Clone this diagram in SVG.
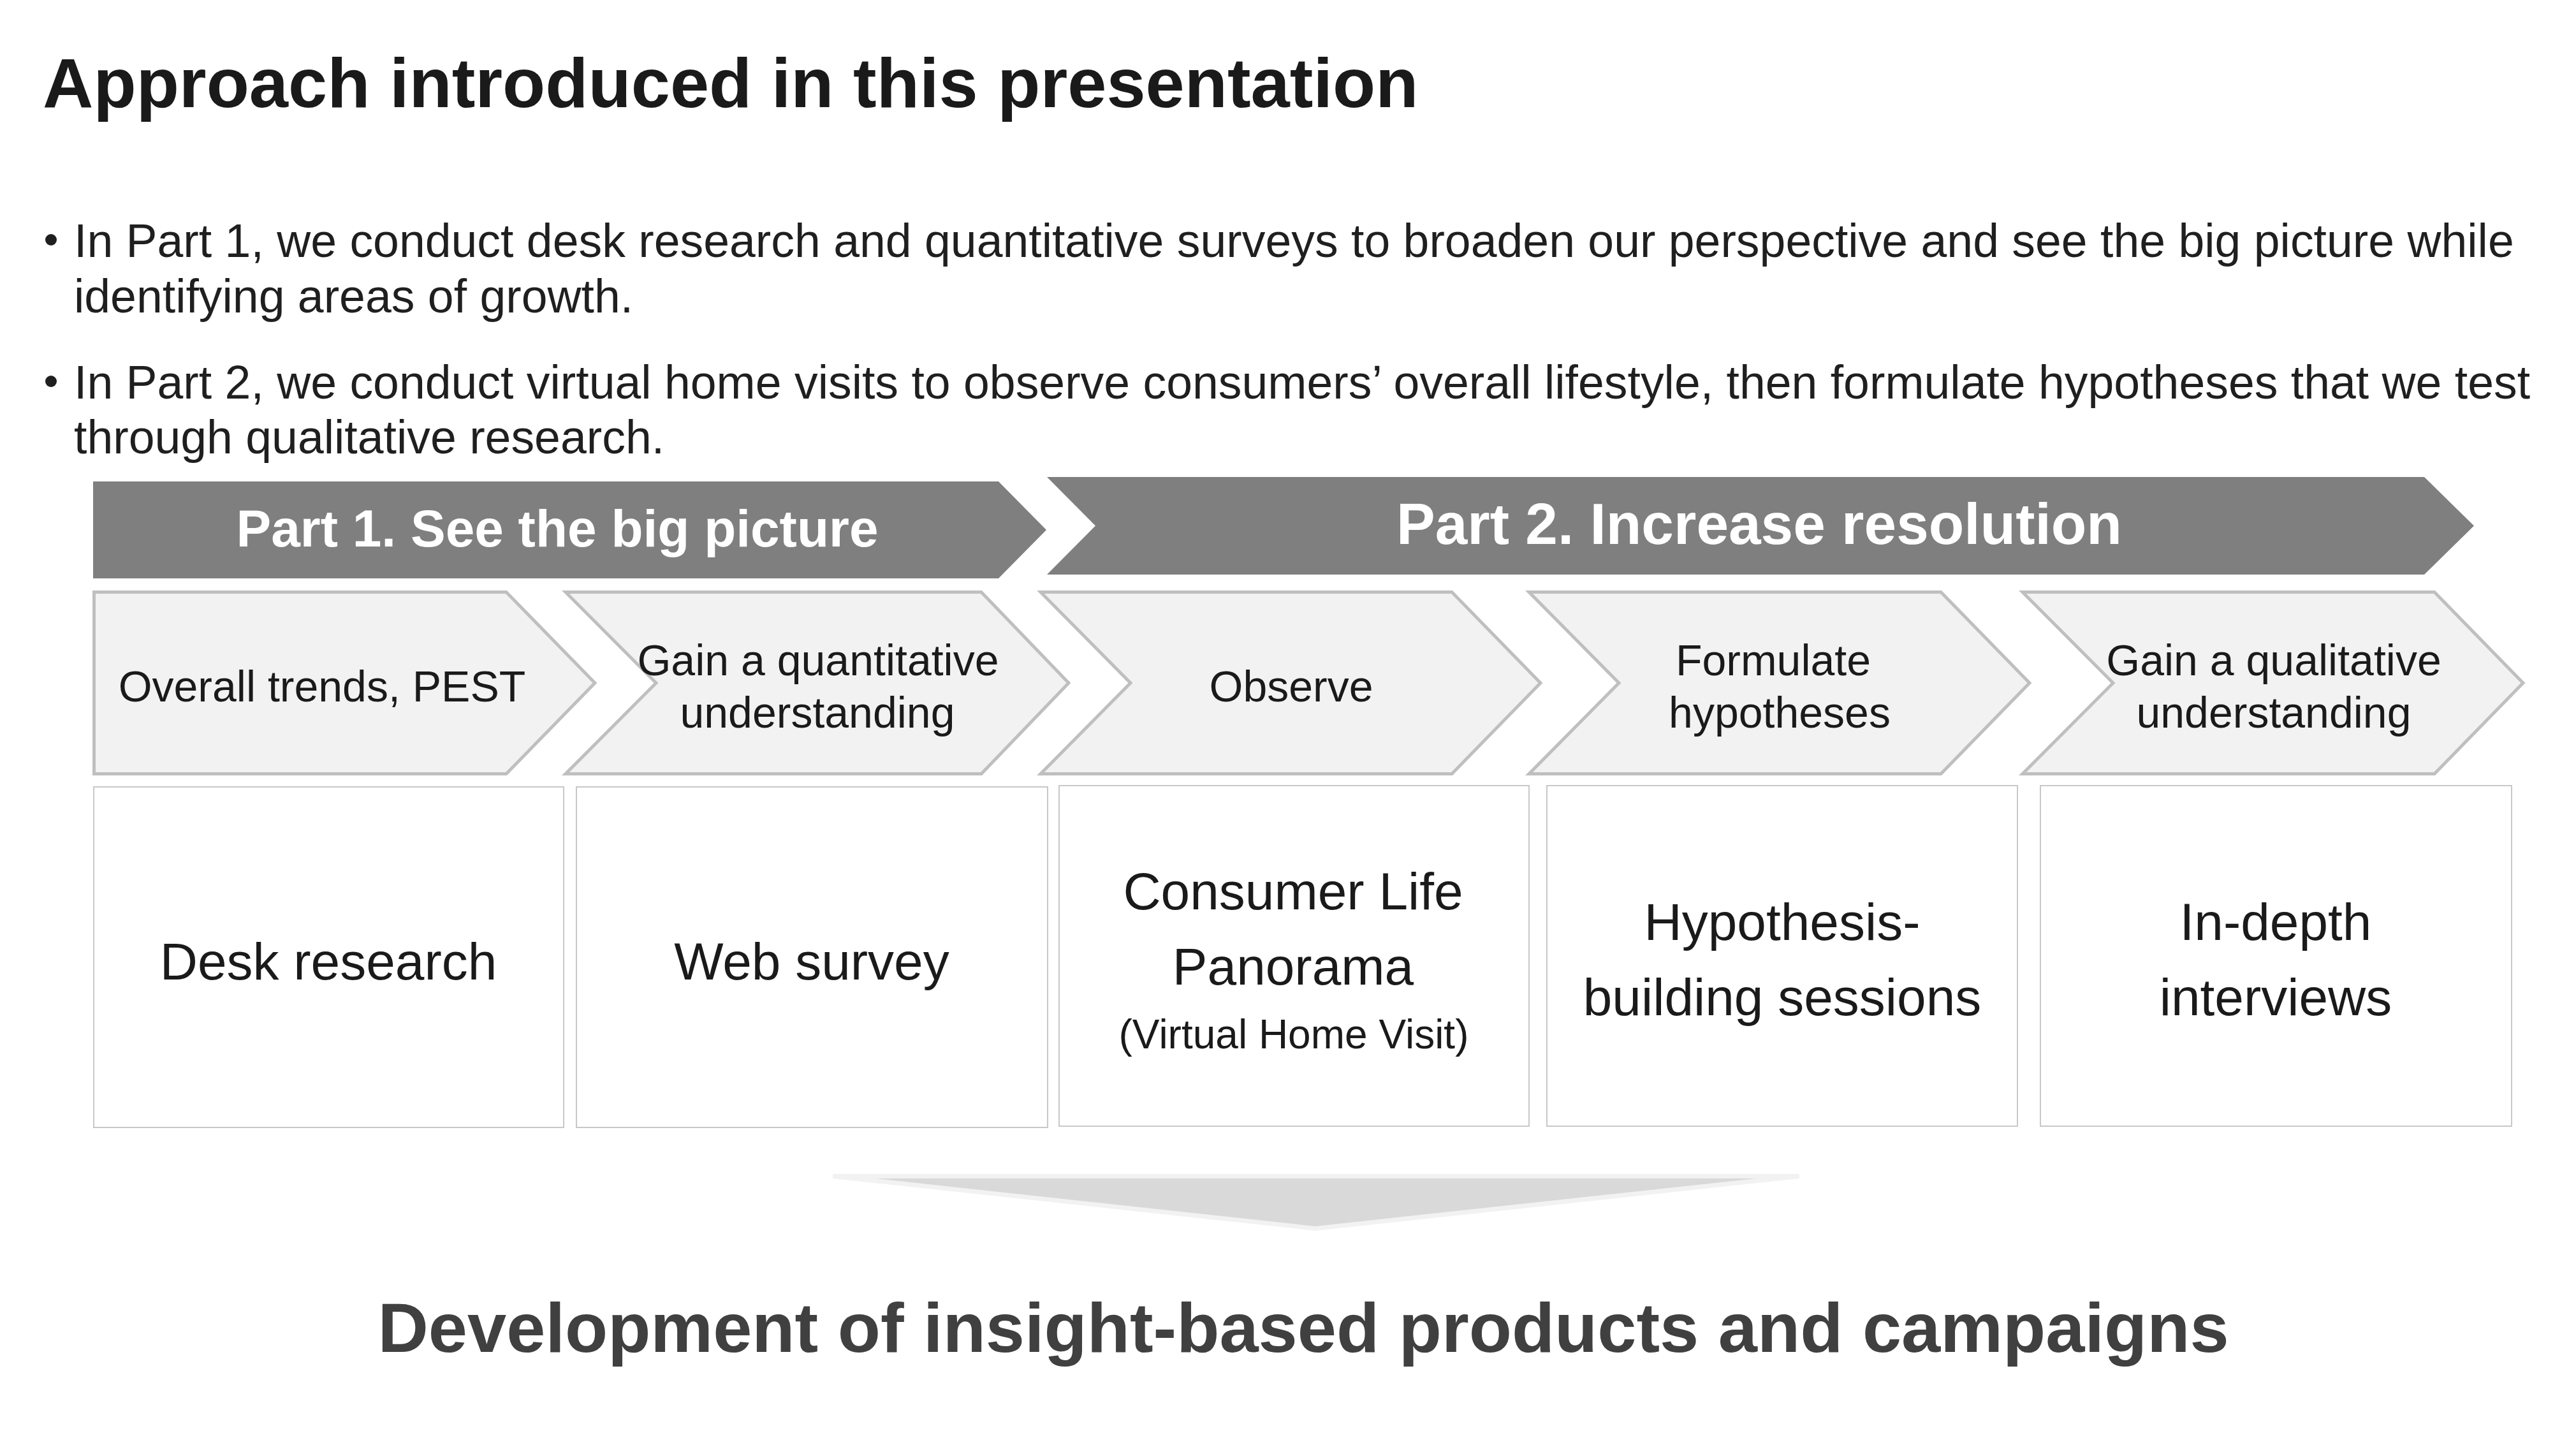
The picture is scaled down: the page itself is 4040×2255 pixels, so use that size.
<svg xmlns="http://www.w3.org/2000/svg" width="4040" height="2255" viewBox="0 0 4040 2255">
<style>
.t{font-family:"Liberation Sans",Arial,sans-serif;}
.title{font-size:110px;font-weight:bold;fill:#1a1a1a;}
.body{font-size:73.4px;fill:#1f1f1f;}
.bar{fill:#7f7f7f;}
.barT{font-size:82px;font-weight:bold;fill:#ffffff;text-anchor:middle;}
.chev{fill:#f2f2f2;stroke:#bfbfbf;stroke-width:5;stroke-linejoin:miter;}
.chevT{font-size:68px;fill:#1a1a1a;text-anchor:middle;}
.box{fill:#ffffff;stroke:#c8c8c8;stroke-width:2;}
.boxT{font-size:82px;fill:#1a1a1a;text-anchor:middle;}
.sub{font-size:64px;fill:#1a1a1a;text-anchor:middle;}
.res{font-size:110px;font-weight:bold;fill:#404040;text-anchor:middle;}
</style>
<rect width="4040" height="2255" fill="#ffffff"/>
<text class="t title" x="67" y="168">Approach introduced in this presentation</text>
<g id="bullets">
<circle cx="80" cy="376" r="9" fill="#1f1f1f"/>
<text class="t body" x="116" y="403">In Part 1, we conduct desk research and quantitative surveys to broaden our perspective and see the big picture while</text>
<text class="t body" x="116" y="490">identifying areas of growth.</text>
<circle cx="80" cy="598" r="9" fill="#1f1f1f"/>
<text class="t body" x="116" y="625">In Part 2, we conduct virtual home visits to observe consumers’ overall lifestyle, then formulate hypotheses that we test</text>
<text class="t body" x="116" y="711">through qualitative research.</text>
</g>
<g id="part1">
<path class="bar" d="M146,755 H1566 L1641,831 L1566,907 H146 Z"/>
<text class="t barT" x="874" y="857">Part 1. See the big picture</text>
</g>
<g id="part2">
<path class="bar" d="M1642,748 H3802 L3880,824.5 L3802,901 H1642 L1718,824.5 Z"/>
<text class="t barT" x="2759" y="853" style="font-size:91px">Part 2. Increase resolution</text>
</g>
<g id="step1">
<path class="chev" d="M147.5,928.5 H794 L933,1071 L794,1213.5 H147.5 Z"/>
<text class="t chevT" x="505" y="1100">Overall trends, PEST</text>
</g>
<g id="step2">
<path class="chev" d="M887,928.5 H1539 L1676,1071 L1539,1213.5 H887 L1029,1071 Z"/>
<text class="t chevT" x="1283" y="1059">Gain a quantitative</text>
<text class="t chevT" x="1282" y="1141">understanding</text>
</g>
<g id="step3">
<path class="chev" d="M1632,928.5 H2277 L2416,1071 L2277,1213.5 H1632 L1773,1071 Z"/>
<text class="t chevT" x="2025" y="1100">Observe</text>
</g>
<g id="step4">
<path class="chev" d="M2398,928.5 H3044 L3183,1071 L3044,1213.5 H2398 L2539,1071 Z"/>
<text class="t chevT" x="2781" y="1059">Formulate</text>
<text class="t chevT" x="2791" y="1141">hypotheses</text>
</g>
<g id="step5">
<path class="chev" d="M3172,928.5 H3818 L3957,1071 L3818,1213.5 H3172 L3314,1071 Z"/>
<text class="t chevT" x="3566" y="1059">Gain a qualitative</text>
<text class="t chevT" x="3566" y="1141">understanding</text>
</g>
<g id="box1">
<rect class="box" x="147" y="1234" width="737" height="534"/>
<text class="t boxT" x="515" y="1536">Desk research</text>
</g>
<g id="box2">
<rect class="box" x="904" y="1234" width="739" height="534"/>
<text class="t boxT" x="1273" y="1536">Web survey</text>
</g>
<g id="box3">
<rect class="box" x="1661" y="1232" width="737" height="534"/>
<text class="t boxT" x="2028" y="1426">Consumer Life</text>
<text class="t boxT" x="2028" y="1544">Panorama</text>
<text class="t sub" x="2029" y="1644">(Virtual Home Visit)</text>
</g>
<g id="box4">
<rect class="box" x="2426" y="1232" width="738" height="534"/>
<text class="t boxT" x="2795" y="1474">Hypothesis-</text>
<text class="t boxT" x="2795" y="1592">building sessions</text>
</g>
<g id="box5">
<rect class="box" x="3200" y="1232" width="739" height="534"/>
<text class="t boxT" x="3569" y="1474">In-depth</text>
<text class="t boxT" x="3569" y="1592">interviews</text>
</g>
<g id="connectors">
<polygon points="1306,1841 2822,1841 2822,1848 2063,1930 1306,1848" fill="#f2f2f2"/>
<polygon points="1373,1848 2755,1848 2063,1923" fill="#d9d9d9"/>
</g>
<g id="result">
<text class="t res" x="2044" y="2120">Development of insight-based products and campaigns</text>
</g>
</svg>
